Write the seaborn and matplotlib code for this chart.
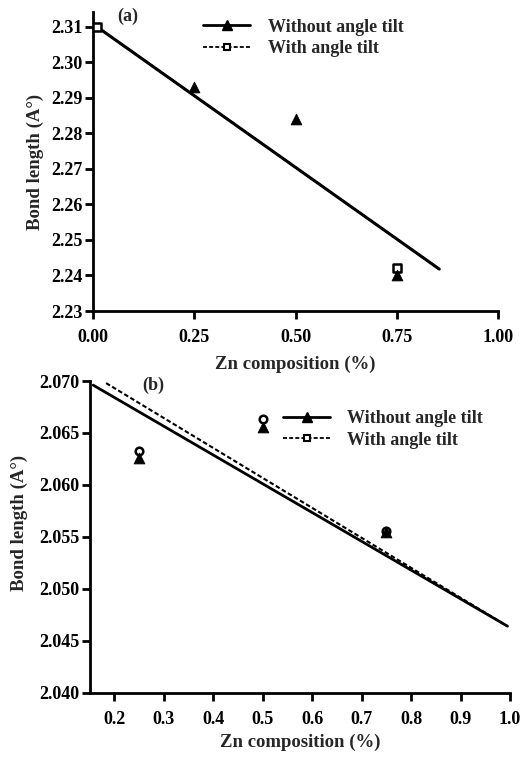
import matplotlib
matplotlib.use("Agg")
import matplotlib.pyplot as plt
from matplotlib.lines import Line2D
import seaborn as sns
import pandas as pd

sns.set_theme(style="ticks")
plt.rcParams["font.family"] = ["Liberation Serif", "DejaVu Serif"]
plt.rcParams["font.weight"] = "bold"
plt.rcParams["axes.labelweight"] = "bold"

# Panel (a) data
a_x_without = [0.25, 0.50, 0.75]
a_y_without = [2.293, 2.284, 2.240]
a_x_with = [0.01, 0.75]
a_y_with = [2.310, 2.242]
a_fit_x = [0.01, 0.855]
a_fit_without = [2.310, 2.2418]
a_fit_with = [2.310, 2.2418]
a_xticks = [0.00, 0.25, 0.50, 0.75, 1.00]
a_yticks = [2.23, 2.24, 2.25, 2.26, 2.27, 2.28, 2.29, 2.30, 2.31]

# Panel (b) data
b_x = [0.25, 0.50, 0.75]
b_y_without = [2.0626, 2.0656, 2.0555]
b_y_with = [2.0633, 2.0663, 2.0556]
b_fit_x_without = [0.158, 0.995]
b_fit_without = [2.0696, 2.0464]
b_fit_x_with = [0.184, 0.995]
b_fit_with = [2.0698, 2.0464]
b_xticks = [0.2, 0.3, 0.4, 0.5, 0.6, 0.7, 0.8, 0.9, 1.0]
b_yticks = [2.040, 2.045, 2.050, 2.055, 2.060, 2.065, 2.070]

labels = ["Without angle tilt", "With angle tilt"]
dash = (0, (2.2, 1.2))
FS = 13

fig = plt.figure(figsize=(5.26, 7.57), dpi=100)
ax1 = fig.add_axes([93 / 526, 1 - 311 / 757, 405 / 526, 299 / 757])
ax2 = fig.add_axes([90 / 526, 1 - 692.7 / 757, 420 / 526, 311.7 / 757])


def style_axes(ax):
    for s in ["top", "right"]:
        ax.spines[s].set_visible(False)
    for s in ["left", "bottom"]:
        ax.spines[s].set_linewidth(2)
        ax.spines[s].set_color("black")
    ax.tick_params(direction="out", length=6, width=2, color="black",
                   labelsize=FS, labelcolor="black")
    ax.tick_params(axis="x", pad=7)
    ax.tick_params(axis="y", pad=1.5)
    for lab in ax.get_xticklabels() + ax.get_yticklabels():
        lab.set_fontweight("bold")
    ax.set_facecolor("white")


def add_legend(ax, loc):
    handles = [
        Line2D([], [], color="black", lw=2, marker="^", markersize=7),
        Line2D([], [], color="black", lw=1.3, ls=dash, marker="s",
               markersize=5, markerfacecolor="white", markeredgewidth=1.5),
    ]
    leg = ax.legend(handles, labels, loc="upper left", bbox_to_anchor=loc,
                    frameon=False, handlelength=2.6, handletextpad=0.95,
                    labelspacing=0.25, borderaxespad=0,
                    prop={"family": "Liberation Serif", "weight": "bold", "size": FS})
    return leg


# ---- Panel (a)
df_a_fit = pd.DataFrame({"x": a_fit_x * 2,
                         "y": a_fit_without + a_fit_with,
                         "s": [labels[0]] * 2 + [labels[1]] * 2})
sns.lineplot(data=df_a_fit[df_a_fit.s == labels[1]], x="x", y="y", ax=ax1,
             color="black", lw=1.5, linestyle=dash, legend=False)
sns.lineplot(data=df_a_fit[df_a_fit.s == labels[0]], x="x", y="y", ax=ax1,
             color="black", lw=2.2, legend=False)
sns.scatterplot(x=a_x_with, y=a_y_with, ax=ax1, marker="s", s=40,
                facecolor="white", edgecolor="black", linewidth=1.8, zorder=3)
sns.scatterplot(x=a_x_without, y=a_y_without, ax=ax1, marker="^", s=60,
                color="black", edgecolor="black", zorder=4)
ax1.set_xlim(0, 1.0)
ax1.set_ylim(2.23, 2.3142)
ax1.set_xticks(a_xticks)
ax1.set_xticklabels([f"{v:.2f}" for v in a_xticks])
ax1.set_yticks(a_yticks)
ax1.set_yticklabels([f"{v:.2f}" for v in a_yticks])
ax1.set_xlabel("Zn composition (%)", fontsize=FS + 0.5, labelpad=7)
ax1.set_ylabel("Bond length (A°)", fontsize=FS + 0.5, labelpad=5)
style_axes(ax1)
ax1.text(0.06, 0.985, "(a)", transform=ax1.transAxes, fontsize=FS,
         fontweight="bold", va="center", ha="left")
add_legend(ax1, (0.255, 1.002))

# ---- Panel (b)
sns.lineplot(x=b_fit_x_with, y=b_fit_with, ax=ax2, color="black", lw=1.5,
             linestyle=dash, legend=False)
sns.lineplot(x=b_fit_x_without, y=b_fit_without, ax=ax2, color="black",
             lw=2.0, legend=False)
sns.scatterplot(x=b_x, y=b_y_with, ax=ax2, marker="o", s=30,
                facecolor="white", edgecolor="black", linewidth=1.8, zorder=3)
sns.scatterplot(x=b_x, y=b_y_without, ax=ax2, marker="^", s=60,
                color="black", edgecolor="black", zorder=4)
ax2.set_xlim(0.1515, 1.0)
ax2.set_ylim(2.040, 2.070)
ax2.set_xticks(b_xticks)
ax2.set_xticklabels([f"{v:.1f}" for v in b_xticks])
ax2.set_yticks(b_yticks)
ax2.set_yticklabels([f"{v:.3f}" for v in b_yticks])
ax2.set_xlabel("Zn composition (%)", fontsize=FS + 0.5, labelpad=4)
ax2.set_ylabel("Bond length (A°)", fontsize=FS + 0.5)
ax2.yaxis.set_label_coords(-0.148, 0.545)
style_axes(ax2)
ax2.text(0.125, 0.985, "(b)", transform=ax2.transAxes, fontsize=FS,
         fontweight="bold", va="center", ha="left")
add_legend(ax2, (0.443, 0.93))

fig.savefig("out.png", dpi=100, facecolor="white")
